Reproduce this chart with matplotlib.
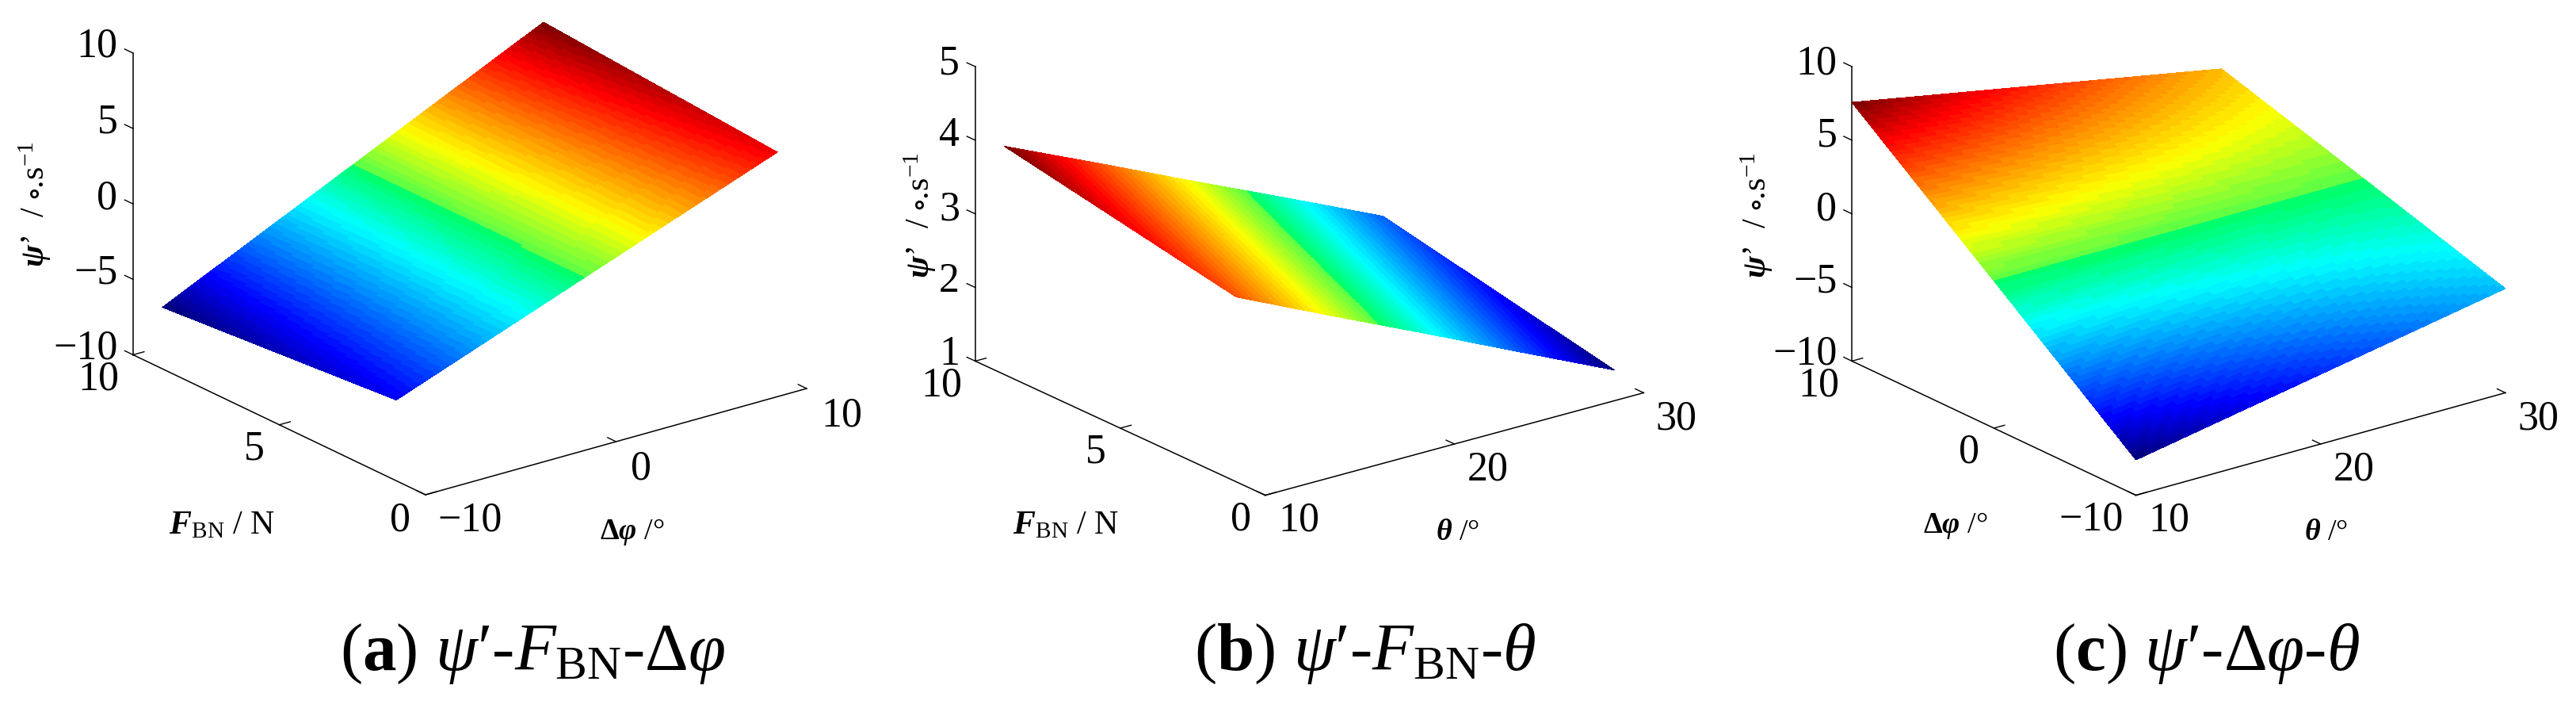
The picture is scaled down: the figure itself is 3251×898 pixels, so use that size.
import numpy as np
import matplotlib
matplotlib.use("Agg")
import matplotlib.pyplot as plt
from matplotlib.colors import LinearSegmentedColormap
from mpl_toolkits.mplot3d import proj3d

plt.rcParams.update({
    "font.family": ["Liberation Serif", "DejaVu Serif"],
    "mathtext.fontset": "custom",
    "mathtext.rm": "Liberation Serif",
    "mathtext.it": "Liberation Serif:italic",
    "mathtext.bf": "Liberation Serif:bold",
    "mathtext.bfit": "Liberation Serif:italic:bold",
    "mathtext.fallback": "stixsans",
})

# ---- values ----
a_dphi = [-10, -5, 0, 5, 10]
a_F = [1, 9]
a_psi = [[-4.65, -2.30, 0.05, 2.40, 4.74],
         [-5.92, -2.96, 0.00, 2.97, 5.93]]

b_theta = [10, 15, 20, 25, 30]
b_F = [1, 9]
b_psi = [[3.51, 2.91, 2.32, 1.72, 1.125],
         [4.10, 3.52, 2.93, 2.35, 1.76]]

c_theta = [10, 15, 20, 25, 30]
c_dphi = [-10, 0, 10]
c_psi = [[-7.60, -6.43, -5.26, -4.09, -2.92],
         [0.00, 0.00, 0.00, 0.00, 0.00],
         [7.57, 6.40, 5.23, 4.06, 2.89]]

a_xticks = [-10, 0, 10]
a_yticks = [0, 5, 10]
a_zticks = [-10, -5, 0, 5, 10]
b_xticks = [10, 20, 30]
b_yticks = [0, 5, 10]
b_zticks = [1, 2, 3, 4, 5]
c_xticks = [10, 20, 30]
c_yticks = [-10, 0, 10]
c_zticks = [-10, -5, 0, 5, 10]

# jet-like map of the reference: its green band is saturated, with a step at the middle
cmap_stops = [(0.0, "#000080"), (0.11, "#0000ff"), (0.375, "#00ffff"),
              (0.499, "#00ff64"), (0.501, "#5aff46"), (0.625, "#ffff00"),
              (0.89, "#ff0000"), (1.0, "#800000")]
ref_jet = LinearSegmentedColormap.from_list("ref_jet", cmap_stops, N=64)

W, H = 3251, 898
fig = plt.figure(figsize=(W / 100, H / 100), dpi=100, facecolor="white")


def px_text(x, y, s, size, **kw):
    kw.setdefault("ha", "center")
    kw.setdefault("va", "center")
    fig.text(x / W, 1 - y / H, s, fontsize=size * 0.72, color="black", **kw)


def label(v):
    return str(v).replace("-", "\u2212")


def panel(x, y, z, xticks, yticks, zticks, O, Xe, Zb, Zt):
    """Build an orthographic 3D axes whose box edges land on the pixel anchors."""
    O, Xe, Zb, Zt = map(lambda p: np.array(p, float), (O, Xe, Zb, Zt))
    vx = Xe - O
    vy = Zb - O
    vz = Zt - Zb
    se = np.sqrt((-vx[1] / vx[0]) * (vy[1] / vy[0]))
    ta = (vy[1] / vy[0]) * -1 / se
    az = np.arctan(abs(ta))
    elev = np.degrees(np.arcsin(se))
    azim = -180 + np.degrees(az)
    bx = vx[0] / np.sin(az)
    by = -vy[0] / np.cos(az)
    bz = -vz[1] / np.cos(np.radians(elev))

    ax = fig.add_axes([0.1, 0.1, 0.3, 0.3], projection="3d", proj_type="ortho")
    ax.view_init(elev=elev, azim=azim)
    ax.set_box_aspect((bx, by, bz))
    ax.set_xlim(xticks[0], xticks[-1], view_margin=0)
    ax.set_ylim(yticks[0], yticks[-1], view_margin=0)
    ax.set_zlim(zticks[0], zticks[-1], view_margin=0)
    ax.set_facecolor("none")
    ax.grid(False)

    # bilinear shading between the read nodes, like MATLAB's "shading interp"
    xs = np.asarray(x, float)
    ys = np.asarray(y, float)
    zs = np.asarray(z, float)
    xf = np.linspace(xs[0], xs[-1], 161)
    yf = np.linspace(ys[0], ys[-1], 81)
    along_x = np.array([np.interp(xf, xs, row) for row in zs])
    zf = np.array([np.interp(yf, ys, col) for col in along_x.T]).T
    Xg, Yg = np.meshgrid(xf, yf)
    ax.plot_surface(Xg, Yg, zf, cmap=ref_jet, vmin=zs.min(), vmax=zs.max(),
                    rstride=1, cstride=1, linewidth=0, antialiased=False, shade=False)

    for axis, ticks in ((ax.xaxis, xticks), (ax.yaxis, yticks), (ax.zaxis, zticks)):
        axis.set_ticks(ticks)
        axis.set_ticklabels([""] * len(ticks))
        axis.set_pane_color((1, 1, 1, 0))
        axis.pane.set_edgecolor((1, 1, 1, 0))
        axis.line.set_color("black")
        axis.line.set_linewidth(1.1)
        axis._axinfo["tick"]["inward_factor"] = 0.0
        axis._axinfo["tick"]["outward_factor"] = 0.36
        axis._axinfo["tick"]["linewidth"] = {True: 1.0, False: 0.5}
        axis._axinfo["tick"]["color"] = "black"
        axis.set_tick_params(color="black", width=1.0)
    # vertical axis on the left edge, its ticks running along the F direction
    ax.zaxis.set_ticks_position("upper")
    ax.zaxis.set_label_position("upper")
    ax.zaxis._get_tickdir = lambda position: 1

    # place the axes so that the box edges coincide with the anchors
    M = ax.get_proj()
    x0, y0, _ = proj3d.proj_transform(xticks[0], yticks[0], zticks[0], M)
    x1, y1, _ = proj3d.proj_transform(xticks[0], yticks[-1], zticks[0], M)
    x2, y2, _ = proj3d.proj_transform(xticks[0], yticks[-1], zticks[-1], M)
    k = abs(vz[1]) / abs(y2 - y1)
    vl = ax.viewLim
    size = k * (vl.x1 - vl.x0)
    left = O[0] - k * (x0 - vl.x0)
    bottom = (H - O[1]) - k * (y0 - vl.y0)
    ax.set_position([left / W, bottom / H, size / W, size / H])
    return ax


PSI = "$\\mathbfit{\\psi}$\u2019  / $\\circ$.s$^{-1}$"
FBN = r"$\mathbfit{F}_{\mathrm{BN}}$ / N"
DPHI = "$\\mathbf{\\Delta}\\mathbfit{\\varphi}$ /\u00b0"
THETA = "$\\mathbfit{\\theta}$ /\u00b0"
P = "$\\psi$\u2032"
CAP = 85

# panel (a)
panel(a_dphi, a_F, a_psi, a_xticks, a_yticks, a_zticks,
      O=(537, 624), Xe=(1018, 490), Zb=(168, 447.5), Zt=(168, 67))
for v, yy in zip(a_zticks, [440, 345, 250, 155, 58]):
    px_text(148.5, yy, label(v), 52, ha="right")
for v, p in zip(a_yticks, [(505, 656), (320.5, 567), (124.8, 479)]):
    px_text(*p, label(v), 52)
for v, p in zip(a_xticks, [(592.6, 657), (808.6, 591.4), (1062, 524.5)]):
    px_text(*p, label(v), 52)
px_text(44, 258, PSI, 42, rotation=90)
px_text(280.5, 663, FBN, 42)
px_text(798, 671, DPHI, 38)
px_text(672, 825, "($\\mathbf{a}$) " + P + r"-$F_{\mathrm{BN}}$-$\Delta\varphi$", CAP)

# panel (b)
panel(b_theta, b_F, b_psi, b_xticks, b_yticks, b_zticks,
      O=(1596.8, 624.6), Xe=(2074.4, 495.4), Zb=(1230.8, 455.4), Zt=(1230.8, 84))
for v, yy in zip(b_zticks, [446.9, 355.4, 264, 171.4, 80]):
    px_text(1211, yy, label(v), 52, ha="right")
for v, p in zip(b_yticks, [(1566, 655.4), (1383, 570.3), (1188.7, 486.9)]):
    px_text(*p, label(v), 52)
for v, p in zip(b_xticks, [(1639.6, 657), (1877.3, 593), (2115.8, 528.6)]):
    px_text(*p, label(v), 52)
px_text(1160.6, 271.4, PSI, 42, rotation=90)
px_text(1345, 663, FBN, 42)
px_text(1839.5, 671.4, THETA, 38)
px_text(1722.7, 825, "($\\mathbf{b}$) " + P + r"-$F_{\mathrm{BN}}$-$\theta$", CAP)

# panel (c)
panel(c_theta, c_dphi, c_psi, c_xticks, c_yticks, c_zticks,
      O=(2695.6, 624.6), Xe=(3161.9, 495.4), Zb=(2337.2, 455.4), Zt=(2337.2, 84))
for v, yy in zip(c_zticks, [446.9, 355.4, 264, 171.4, 80]):
    px_text(2318.3, yy, label(v), 52, ha="right")
for v, p in zip(c_yticks, [(2639.5, 655.4), (2485, 570.3), (2295, 486.9)]):
    px_text(*p, label(v), 52)
for v, p in zip(c_xticks, [(2737.7, 657), (2970.5, 593), (3203.3, 528.6)]):
    px_text(*p, label(v), 52)
px_text(2216.6, 271.4, PSI, 42, rotation=90)
px_text(2467.7, 663, DPHI, 38)
px_text(2935.4, 671.4, THETA, 38)
px_text(2784.6, 825, "($\\mathbf{c}$) " + P + r"-$\Delta\varphi$-$\theta$", CAP)

fig.savefig("out.png", dpi=100, facecolor="white")
